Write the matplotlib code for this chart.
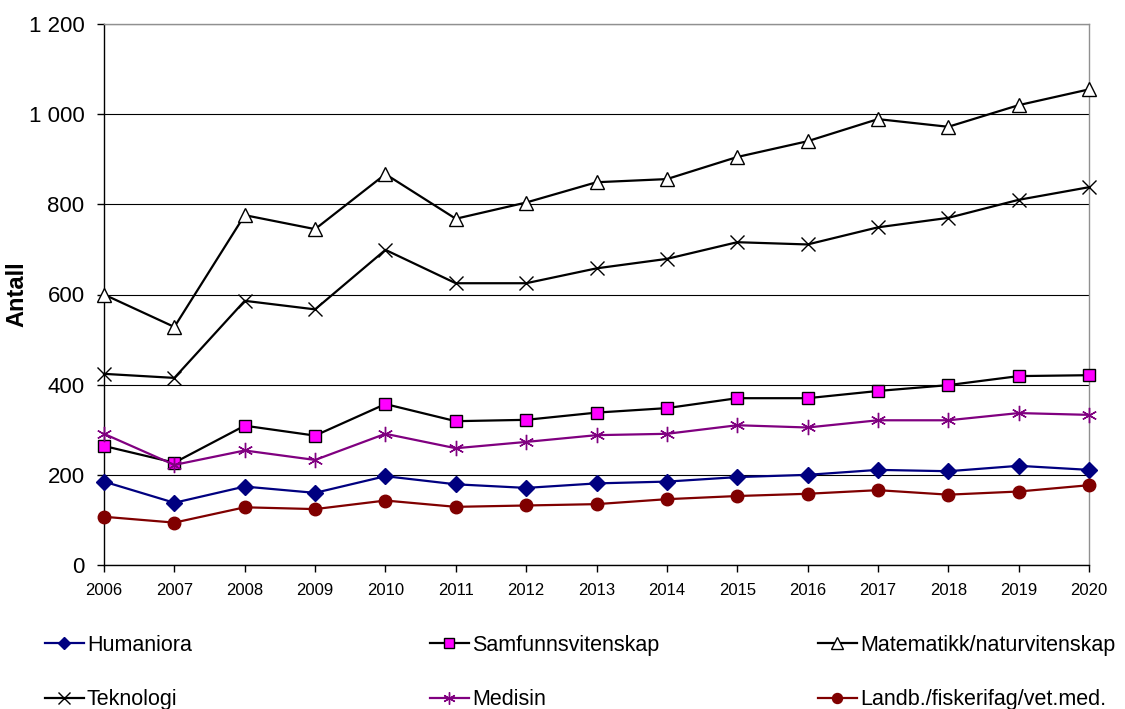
import numpy as np
import matplotlib
matplotlib.use("Agg")
import matplotlib.pyplot as plt
from matplotlib.ticker import FuncFormatter

plt.rcParams['font.family'] = ['Liberation Sans', 'DejaVu Sans']

years = list(range(2006, 2021))

humaniora = [185, 138, 174, 160, 197, 179, 171, 181, 185, 195, 200, 211, 208, 220, 211]
samfunn = [264, 227, 309, 287, 357, 319, 322, 338, 348, 370, 370, 386, 399, 419, 421]
matnat = [600, 528, 776, 745, 867, 768, 804, 849, 856, 905, 940, 989, 972, 1020, 1055]
teknologi = [424, 415, 586, 567, 699, 625, 625, 658, 679, 716, 711, 749, 770, 810, 838]
medisin = [291, 222, 254, 233, 291, 259, 273, 288, 291, 310, 305, 321, 321, 337, 333]
landbruk = [107, 94, 128, 124, 143, 129, 132, 135, 146, 153, 158, 166, 156, 163, 177]

labels = ["Humaniora", "Samfunnsvitenskap", "Matematikk/naturvitenskap",
          "Teknologi", "Medisin", "Landb./fiskerifag/vet.med."]

fig = plt.figure(figsize=(11.25, 7.09), dpi=100)
ax = fig.add_axes([104 / 1125, 1 - 565 / 709, (1089 - 104) / 1125, (565 - 24) / 709])

lw = 1.6
common = dict(lw=lw, clip_on=False, zorder=3)
h_hum, = ax.plot(years, humaniora, color='#000080', marker='D', ms=8,
                 mfc='#000080', mec='#000080', **common)
h_sam, = ax.plot(years, samfunn, color='black', marker='s', ms=9,
                 mfc='#FF00FF', mec='black', mew=1.0, **common)
h_mat, = ax.plot(years, matnat, color='black', marker='^', ms=10,
                 mfc='white', mec='black', mew=1.0, **common)
h_tek, = ax.plot(years, teknologi, color='black', marker='x', ms=10,
                 mec='black', mew=1.0, **common)
h_med, = ax.plot(years, medisin, color='#800080', marker=(6, 2, 0), ms=11,
                 mec='#800080', mew=1.0, **common)
h_lan, = ax.plot(years, landbruk, color='#800000', marker='o', ms=9,
                 mfc='#800000', mec='#800000', **common)

ax.set_xlim(2006, 2020)
ax.set_ylim(0, 1200)
ax.set_xticks(years)
ax.set_yticks(range(0, 1201, 200))
ax.yaxis.set_major_formatter(FuncFormatter(lambda v, p: f"{int(v):,}".replace(",", " ")))
ax.grid(axis='y', color='black', lw=0.8)
ax.set_axisbelow(True)

for s in ['top', 'right']:
    ax.spines[s].set_color('#909090')
    ax.spines[s].set_linewidth(1.0)
for s in ['left', 'bottom']:
    ax.spines[s].set_color('black')
    ax.spines[s].set_linewidth(1.0)

ax.tick_params(axis='y', labelsize=16, length=5, width=1, pad=9)
ax.tick_params(axis='x', labelsize=12, length=5, width=1, pad=8)
ax.set_ylabel("Antall", fontsize=17, fontweight='bold')
ax.yaxis.set_label_coords(-76 / 985, 0.5)

handles = [h_hum, h_sam, h_mat, h_tek, h_med, h_lan]
col_x = [45 / 1125, 430 / 1125, 818 / 1125]
for i in range(3):
    hs = [handles[i], handles[i + 3]]
    ls = [labels[i], labels[i + 3]]
    fig.legend(hs, ls, loc='upper left', bbox_to_anchor=(col_x[i], 1 - 635 / 709),
               frameon=False, fontsize=15.5, handlelength=1.8, handletextpad=0.15,
               labelspacing=1.55, borderaxespad=0, borderpad=0, markerscale=0.8)

fig.savefig("out.png", dpi=100)
